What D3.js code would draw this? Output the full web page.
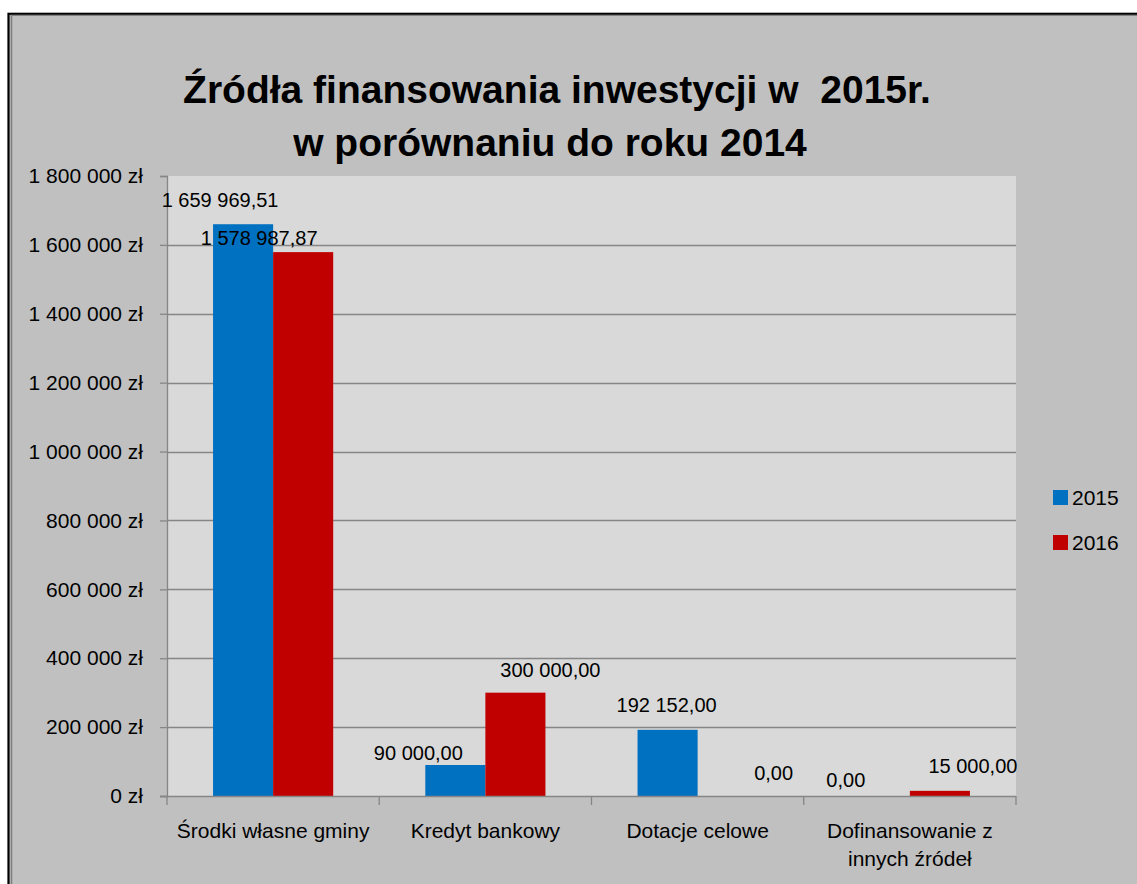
<!DOCTYPE html>
<html>
<head>
<meta charset="utf-8">
<script src="https://cdn.jsdelivr.net/npm/d3@7"></script>
<style>
  html, body { margin: 0; padding: 0; background: #ffffff; }
  svg { display: block; }
  text { font-family: "Liberation Sans", Arial, sans-serif; fill: #000; }
</style>
</head>
<body>
<svg id="chart" width="1137" height="884"></svg>
<script>
// ---- data ----
const titleLines = ["Źródła finansowania inwestycji w  2015r.", "w porównaniu do roku 2014"];
const categories = ["Środki własne gminy", "Kredyt bankowy", "Dotacje celowe", "Dofinansowanie z\ninnych źródeł"];
const seriesNames = ["2015", "2016"];
const values2015 = [1659969.51, 90000, 192152, 0];
const values2016 = [1578987.87, 300000, 0, 15000];
const yTicks = [0, 200000, 400000, 600000, 800000, 1000000, 1200000, 1400000, 1600000, 1800000];
const seriesColors = ["#0070c0", "#c00000"];

// manual label nudges (as placed in the original chart) [dx, dy] per series/category
const labelNudge = [
  [[-23, -8], [-37, 4], [-1, -9], [-34, 0]],
  [[-44, 2], [35, -7], [46, -7], [33, -9]]
];

const pl = d3.formatLocale({decimal: ",", thousands: "\u2009", grouping: [3], currency: ["", ""]});
const fmtTick = v => pl.format(",.0f")(v).replace(/\u2009/g, " ") + " zł";
const fmtVal = v => pl.format(",.2f")(v).replace(/\u2009/g, " ");

const svg = d3.select("#chart");

// outer chart area with border
svg.append("rect").attr("x", 8.5).attr("y", 13.8).attr("width", 1200).attr("height", 1000)
  .attr("fill", "#c0c0c0").attr("stroke", "#000").attr("stroke-width", 2.2);
svg.append("line").attr("x1", 11.5).attr("x2", 11.5).attr("y1", 15).attr("y2", 884)
  .attr("stroke", "#808080").attr("stroke-width", 1.6);
svg.append("line").attr("x1", 11).attr("x2", 1137).attr("y1", 15.3).attr("y2", 15.3)
  .attr("stroke", "#808080").attr("stroke-width", 1.2);

const plot = {left: 167, top: 176, right: 1016, bottom: 796};

svg.append("rect").attr("x", plot.left).attr("y", plot.top)
  .attr("width", plot.right - plot.left).attr("height", plot.bottom - plot.top)
  .attr("fill", "#d9d9d9");

const y = d3.scaleLinear().domain([0, 1800000]).range([plot.bottom, plot.top]);
const x0 = d3.scaleBand().domain(d3.range(categories.length))
  .range([plot.left, plot.right]).paddingInner(0.434).paddingOuter(0.217);
const x1 = d3.scaleBand().domain(d3.range(seriesNames.length)).range([0, x0.bandwidth()]);

// gridlines
svg.append("g").selectAll("line").data(yTicks.filter(t => t > 0 && t < 1800000)).join("line")
  .attr("x1", plot.left).attr("x2", plot.right)
  .attr("y1", d => Math.round(y(d)) + 0.5).attr("y2", d => Math.round(y(d)) + 0.5)
  .attr("stroke", "#868686").attr("stroke-width", 1.3);

// y axis
const yAxis = d3.axisLeft(y).tickValues(yTicks).tickFormat(fmtTick).tickSize(7).tickPadding(17);
const gy = svg.append("g").attr("transform", `translate(${plot.left},0)`).call(yAxis);
gy.select(".domain").attr("stroke", "#868686").attr("stroke-width", 1.3);
gy.selectAll(".tick line").attr("stroke", "#868686").attr("stroke-width", 1.3);
gy.selectAll(".tick text").attr("font-size", 21).attr("fill", "#000")
  .style("font-family", "'Liberation Sans', Arial, sans-serif");

// bars
const series = [values2015, values2016];
series.forEach((vals, si) => {
  svg.append("g").selectAll("rect").data(vals).join("rect")
    .attr("x", (d, i) => x0(i) + x1(si))
    .attr("width", x1.bandwidth())
    .attr("y", d => y(d))
    .attr("height", d => y(0) - y(d))
    .attr("fill", seriesColors[si]);
});

// x axis
const step = x0.step();
const gx = svg.append("g");
gx.append("line").attr("x1", plot.left - 7).attr("x2", plot.right)
  .attr("y1", plot.bottom + 0.5).attr("y2", plot.bottom + 0.5)
  .attr("stroke", "#868686").attr("stroke-width", 1.3);
gx.selectAll("line.tk").data(d3.range(categories.length + 1)).join("line").attr("class", "tk")
  .attr("x1", i => plot.left + i * step).attr("x2", i => plot.left + i * step)
  .attr("y1", plot.bottom).attr("y2", plot.bottom + 9)
  .attr("stroke", "#868686").attr("stroke-width", 1.3);
categories.forEach((c, i) => {
  const t = gx.append("text").attr("text-anchor", "middle").attr("font-size", 21)
    .attr("x", x0(i) + x0.bandwidth() / 2).attr("y", 838);
  c.split("\n").forEach((ln, k) => {
    t.append("tspan").attr("x", x0(i) + x0.bandwidth() / 2).attr("dy", k === 0 ? 0 : 28).text(ln);
  });
});

// data labels
series.forEach((vals, si) => {
  svg.append("g").selectAll("text").data(vals).join("text")
    .attr("text-anchor", "middle").attr("font-size", 20)
    .attr("x", (d, i) => x0(i) + x1(si) + x1.bandwidth() / 2 + labelNudge[si][i][0])
    .attr("y", (d, i) => y(d) - 9 + labelNudge[si][i][1])
    .text(d => fmtVal(d));
});

// title
svg.append("g").selectAll("text").data(titleLines).join("text")
  .attr("text-anchor", "middle").attr("font-weight", "bold").attr("font-size", 39)
  .attr("x", (d, i) => i === 0 ? 557 : 550)
  .attr("y", (d, i) => 103 + i * 53)
  .attr("xml:space", "preserve").style("white-space", "pre")
  .text(d => d);

// legend
const lg = svg.append("g");
seriesNames.forEach((s, i) => {
  lg.append("rect").attr("x", 1053).attr("y", 490 + i * 45).attr("width", 15).attr("height", 15)
    .attr("fill", seriesColors[i]);
  lg.append("text").attr("x", 1072).attr("y", 505 + i * 45).attr("font-size", 21).text(s);
});
</script>
</body>
</html>
